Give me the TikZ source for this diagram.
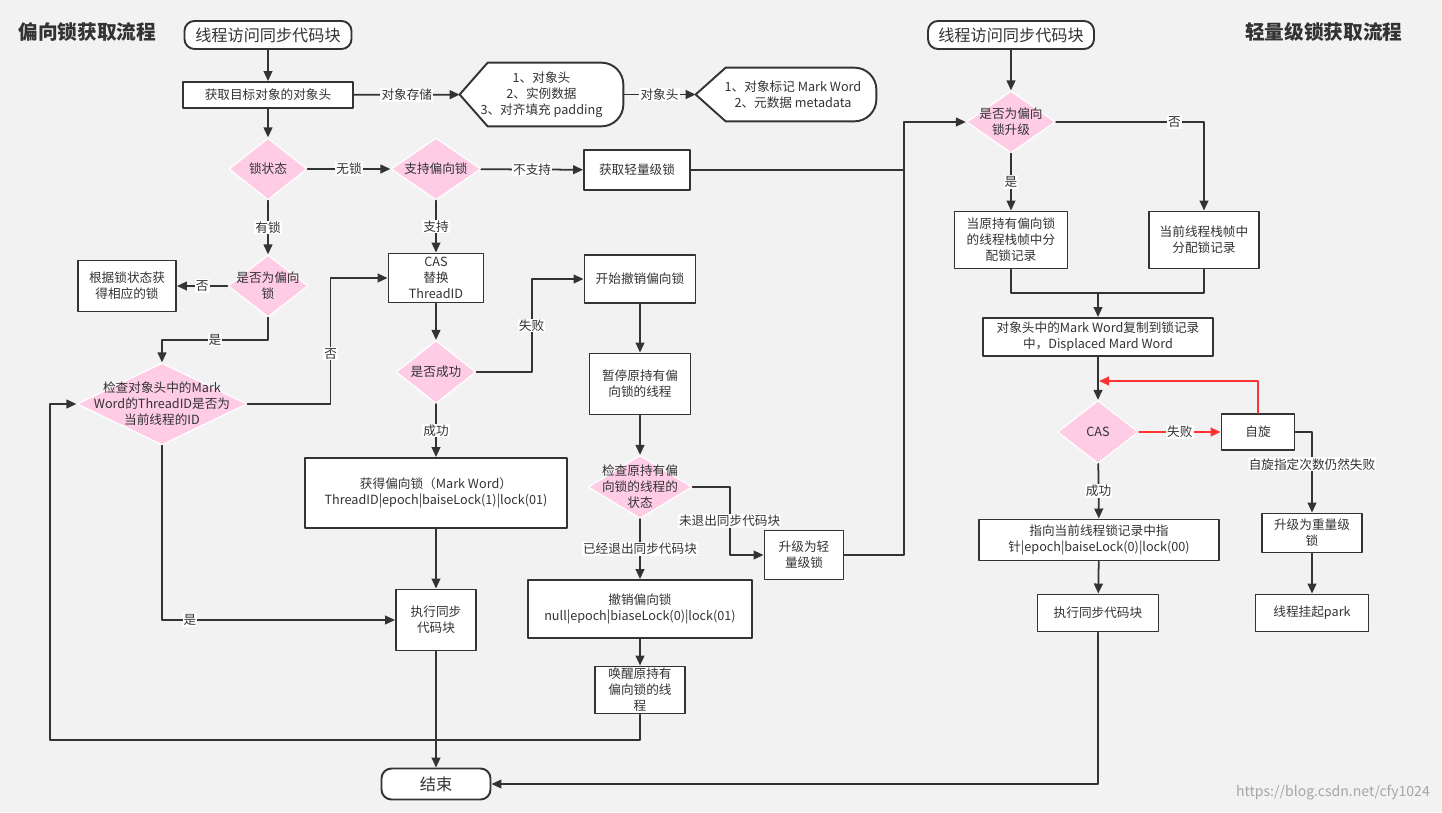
\documentclass[tikz,border=0pt]{standalone}
\usepackage{fontspec}
\setmainfont{Noto Sans CJK SC}
\usetikzlibrary{shapes.geometric,arrows.meta}
\definecolor{bgc}{HTML}{F2F2F2}
\definecolor{pnk}{HTML}{FFCCE6}
\definecolor{ink}{HTML}{333333}
\definecolor{redl}{HTML}{FF3333}
\def\px{0.02cm}
\begin{document}
\begin{tikzpicture}[x=\px,y=-\px,line cap=round,line join=round,
    font=\fontsize{7.2}{9.1}\selectfont,text=ink,
    box/.style 2 args={draw=ink,line width=1.1pt,fill=white,align=center,inner sep=0pt,
      minimum width=#1*\px,minimum height=#2*\px},
    term/.style 2 args={box={#1}{#2},rounded corners=0.2cm,font=\fontsize{9.2}{11}\selectfont},
    dia/.style 2 args={diamond,draw=white,line width=0.7pt,fill=pnk,inner sep=0pt,
      minimum width=#1*\px,minimum height=#2*\px},
    disp/.style 2 args={inner sep=0pt,minimum width=#1*\px,minimum height=#2*\px},
    dtext/.style={align=center,inner sep=0pt},
    shp/.style={draw=ink,line width=1.1pt,fill=white},
    ttl/.style={font=\fontsize{11.2}{13}\selectfont\bfseries,inner sep=0pt},
    ln/.style={draw=ink,line width=1pt},
    arr/.style={ln,-{Triangle[length=5.7pt,width=5pt]}},
    redarr/.style={arr,draw=redl},
    lbl/.style={fill=white,inner sep=0.6pt}]
  \fill[bgc] (0,0) rectangle (1442,812);
  \node[ttl,anchor=west] (t1) at (18,32) {偏向锁获取流程};
  \node[ttl,anchor=east] (t2) at (1403,32) {轻量级锁获取流程};

  \node[term={167}{28}] (s1) at (268,35) {线程访问同步代码块};
  \node[box={170}{26}] (head) at (268,95) {获取目标对象的对象头};
  \node[disp={163}{63}] (store) at (541.5,94.5) {};
  \node[disp={180}{53}] (mw) at (786,94.5) {};
  \draw[shp] (store.west) -- ([shift={(28,0)}]store.north west) -- (store.north)
    [rounded corners=0.44cm] -- (store.north east) -- (store.south east) -- (store.south)
    [sharp corners] -- ([shift={(28,0)}]store.south west) -- cycle;
  \draw[shp] (mw.west) -- ([shift={(30,0)}]mw.north west) -- (mw.north)
    [rounded corners=0.44cm] -- (mw.north east) -- (mw.south east) -- (mw.south)
    [sharp corners] -- ([shift={(30,0)}]mw.south west) -- cycle;
  \node[dtext] (storet) at (541.5,94.5) {1、对象头\\2、实例数据\\3、对齐填充 padding};
  \node[dtext] (mwt) at (793,94.5) {1、对象标记 Mark Word\\2、元数据 metadata};

  \node[dia={78}{62}] (lockst) at (268,169) {};
  \node[dtext] (lockstt) at (lockst) {锁状态};
  \node[dia={90}{62}] (biassup) at (436,169) {};
  \node[dtext] (biassupt) at (biassup) {支持偏向锁};
  \node[box={106}{40}] (light) at (637,170) {获取轻量级锁};
  \node[dia={80}{62}] (isbias) at (268,286) {};
  \node[dtext] (isbiast) at (isbias) {是否为偏向\\锁};
  \node[box={98}{51}] (other) at (127,286) {根据锁状态获\\得相应的锁};
  \node[dia={170}{82}] (check) at (162,404) {};
  \node[dtext] (checkt) at (check) {检查对象头中的Mark\\Word的ThreadID是否为\\当前线程的ID};
  \node[box={95}{49}] (cas1) at (436,278) {CAS\\替换\\ThreadID};
  \node[dia={80}{63}] (ok1) at (436,372) {};
  \node[dtext] (ok1t) at (ok1) {是否成功};
  \node[box={262}{70}] (got) at (436,493) {获得偏向锁（Mark Word）\\ThreadID|epoch|baiseLock(1)|lock(01)};
  \node[box={80}{61}] (exec1) at (436,620) {执行同步\\代码块};
  \node[box={111}{48}] (revoke) at (640,279) {开始撤销偏向锁};
  \node[box={101}{61}] (pause) at (640,384) {暂停原持有偏\\向锁的线程};
  \node[dia={104}{63}] (state) at (640,487) {};
  \node[dtext] (statet) at (state) {检查原持有偏\\向锁的线程的\\状态};
  \node[box={79}{49}] (uplight) at (804,555) {升级为轻\\量级锁};
  \node[box={224}{58}] (undo) at (640,609) {撤销偏向锁\\null|epoch|biaseLock(0)|lock(01)};
  \node[box={90}{47}] (wake) at (640,690) {唤醒原持有\\偏向锁的线\\程};
  \node[term={109}{31}] (end) at (436,784) {结束};

  \node[term={166}{28}] (s2) at (1011,35) {线程访问同步代码块};
  \node[dia={89}{62}] (isup) at (1011,122) {};
  \node[dtext] (isupt) at (isup) {是否为偏向\\锁升级};
  \node[box={113}{57}] (frameA) at (1011,240) {当原持有偏向锁\\的线程栈帧中分\\配锁记录};
  \node[box={110}{57}] (frameB) at (1204,240) {当前线程栈帧中\\分配锁记录};
  \node[box={230}{38}] (copy) at (1098,337) {对象头中的Mark Word复制到锁记录\\中，Displaced Mard Word};
  \node[dia={81}{63}] (cas2) at (1098,432) {};
  \node[dtext] (cas2t) at (cas2) {CAS};
  \node[box={73}{36}] (spin) at (1258,432) {自旋};
  \node[box={100}{39}] (heavy) at (1312,533) {升级为重量级\\锁};
  \node[box={113}{37}] (park) at (1312,613) {线程挂起park};
  \node[box={240}{41}] (point) at (1099,540) {指向当前线程锁记录中指\\针|epoch|baiseLock(0)|lock(00)};
  \node[box={121}{37}] (exec2) at (1098,613) {执行同步代码块};
  \node[text=black!35,font=\fontsize{8}{10}\selectfont,anchor=east] (wm) at (1436,793) {https://blog.csdn.net/cfy1024};

  \coordinate (jn) at (904,122);
  \coordinate (lb) at (50,740);
  \coordinate (mg) at (1098,293);
  \coordinate (ret) at (1099,381);

  \draw[arr] (s1) -- (head);
  \draw[arr] (head) -- node[lbl] {对象存储} (store);
  \draw[arr] (store) -- node[lbl] {对象头} (mw);
  \draw[arr] (head) -- (lockst);
  \draw[arr] (lockst) -- node[lbl] {无锁} (biassup);
  \draw[arr] (lockst) -- node[lbl] {有锁} (isbias);
  \draw[arr] (biassup) -- node[lbl] {不支持} (light);
  \draw[arr] (biassup) -- node[lbl] {支持} (cas1);
  \draw[arr] (isbias) -- node[lbl] {否} (other);
  \draw[arr] (isbias.south) -- ++(0,22) -| node[lbl,pos=0.25] {是} (check.north);
  \draw[arr] (check.east) -- ++(83,0) |- node[lbl,pos=0.2] {否} (cas1.west);
  \draw[arr] (check.south) |- node[lbl,pos=0.56] {是} (exec1.west);
  \draw[arr] (cas1) -- (ok1);
  \draw[arr] (ok1) -- node[lbl] {成功} (got);
  \draw[arr] (ok1.east) -- ++(55,0) |- node[lbl,pos=0.25] {失败} (revoke.west);
  \draw[arr] (got) -- (exec1);
  \draw[arr] (exec1) -- (end);
  \draw[arr] (revoke) -- (pause);
  \draw[arr] (pause) -- (state);
  \draw[arr] (state.east) -- ++(37,0) |- node[lbl,pos=0.25] {未退出同步代码块} (uplight.west);
  \draw[arr] (state) -- node[lbl] {已经退出同步代码块} (undo);
  \draw[arr] (undo) -- (wake);
  \draw[arr] (wake.south) |- (lb) |- (check.west);
  \draw[ln] (light.east) -- (light.east -| jn);
  \draw[arr] (uplight.east) -| (jn) -- (isup.west);

  \draw[arr] (s2) -- (isup);
  \draw[arr] (isup.east) -| node[lbl,pos=0.4] {否} (frameB.north);
  \draw[arr] (isup) -- node[lbl] {是} (frameA);
  \draw[ln] (frameA.south) |- (mg) -| (frameB.south);
  \draw[arr] (mg) -- (copy);
  \draw[arr] (copy) -- (cas2);
  \draw[redarr] (cas2) -- node[lbl] {失败} (spin);
  \draw[redarr] (spin.north) |- (ret);
  \draw[arr] (spin.east) -| node[lbl,pos=0.7] {自旋指定次数仍然失败} (heavy.north);
  \draw[arr] (cas2) -- node[lbl] {成功} (point);
  \draw[arr] (point) -- (exec2);
  \draw[arr] (heavy) -- (park);
  \draw[arr] (exec2.south) |- (end.east);
\end{tikzpicture}
\end{document}
